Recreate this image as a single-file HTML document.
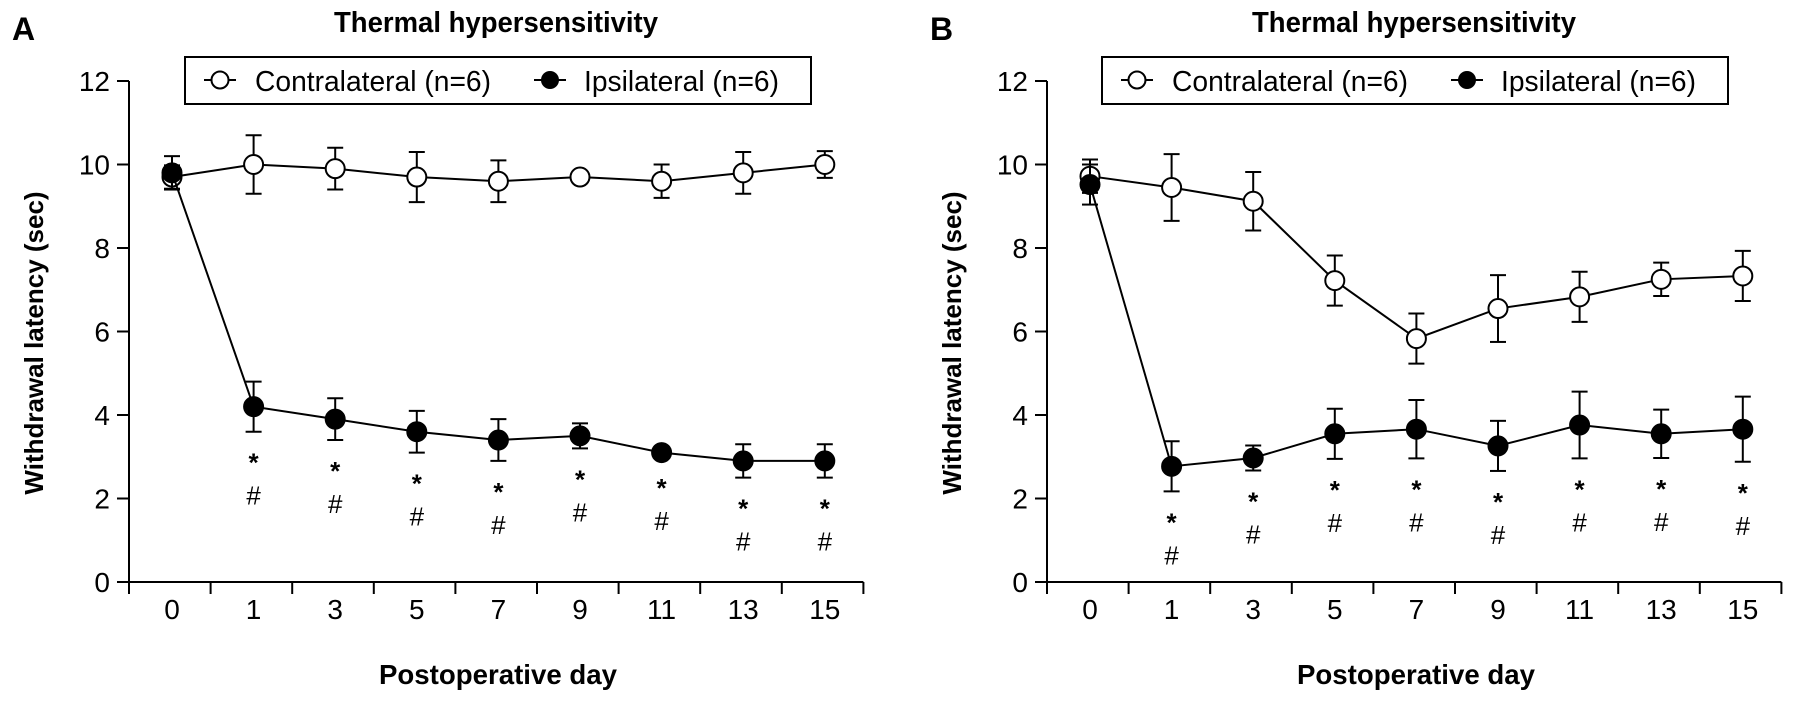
<!DOCTYPE html>
<html><head><meta charset="utf-8"><style>
body{margin:0;background:#fff}
svg text{font-family:"Liberation Sans",Arial,sans-serif;fill:#000}
</style></head><body>
<svg id="chart" width="1795" height="698" viewBox="0 0 1795 698"></svg>
<script>
const days = ["0","1","3","5","7","9","11","13","15"];
const yTicks = [0,2,4,6,8,10,12];
const contraA = [9.7,10.0,9.9,9.7,9.6,9.7,9.6,9.8,10.0];
const contraAErr = [0.28,0.7,0.5,0.6,0.5,0.08,0.4,0.5,0.32];
const ipsiA = [9.8,4.2,3.9,3.6,3.4,3.5,3.1,2.9,2.9];
const ipsiAErr = [0.4,0.6,0.5,0.5,0.5,0.3,0.1,0.4,0.4];
const contraB = [9.72,9.45,9.12,7.22,5.83,6.55,6.83,7.25,7.33];
const contraBErr = [0.4,0.8,0.7,0.6,0.6,0.8,0.6,0.4,0.6];
const ipsiB = [9.52,2.77,2.97,3.55,3.66,3.26,3.76,3.55,3.66];
const ipsiBErr = [0.48,0.6,0.3,0.6,0.7,0.6,0.8,0.58,0.78];
const annotA = [false,true,true,true,true,true,true,true,true];
const annotB = [false,true,true,true,true,true,true,true,true];

const NS="http://www.w3.org/2000/svg";
const svg=document.getElementById('chart');
function mk(tag,attrs,parent,text){const e=document.createElementNS(NS,tag);for(const k in attrs)e.setAttribute(k,attrs[k]);if(text!==undefined)e.textContent=text;(parent||svg).appendChild(e);return e;}

const Y0=582, Y12=81;
function yScale(v){return Y0-(v/12)*(Y0-Y12);}

function panel(letter,ax,contra,cErr,ipsi,iErr,annot,legendX){
  const g=mk('g',{});
  
  
  const step=81.6;
  const xScale=i=>ax+43+i*step;
  const xEnd=ax+9*step;
  let t=mk('text',{x:ax-117,y:40,'font-size':32,'font-weight':'bold'},g,letter);
  
  t=mk('text',{x:ax+205,y:32,'font-size':29,'font-weight':'bold',textLength:324,lengthAdjust:'spacingAndGlyphs'},g,'Thermal hypersensitivity');
  
  let a=mk('line',{x1:ax,y1:Y12,x2:ax,y2:Y0,stroke:'#000','stroke-width':2},g);
  
  a=mk('line',{x1:ax,y1:Y0,x2:xEnd,y2:Y0,stroke:'#000','stroke-width':2},g);
  
  yTicks.forEach(v=>{
    mk('line',{x1:ax-12,y1:yScale(v),x2:ax,y2:yScale(v),stroke:'#000','stroke-width':2},g);
    const l=mk('text',{x:ax-19,y:yScale(v)+10,'font-size':28,'text-anchor':'end'},g,String(v));
    
  });
  for(let k=0;k<=9;k++){mk('line',{x1:ax+k*step,y1:Y0,x2:ax+k*step,y2:Y0+12,stroke:'#000','stroke-width':2},g);}
  days.forEach((d,i)=>{
    const l=mk('text',{x:xScale(i),y:619,'font-size':28,'text-anchor':'middle'},g,d);
    
  });
  t=mk('text',{x:ax+369,y:684,'font-size':28,'font-weight':'bold','text-anchor':'middle',textLength:238,lengthAdjust:'spacingAndGlyphs'},g,'Postoperative day');
  
  t=mk('text',{x:0,y:0,'font-size':26,'font-weight':'bold','text-anchor':'middle',transform:`translate(${ax-86},${343}) rotate(-90)`},g,'Withdrawal latency (sec)');
  
  const lg=mk('g',{},g);
  
  mk('rect',{x:legendX,y:57,width:626,height:47,fill:'#fff',stroke:'#000','stroke-width':2},lg);
  mk('line',{x1:legendX+19,y1:80,x2:legendX+51,y2:80,stroke:'#000','stroke-width':2},lg);
  mk('circle',{cx:legendX+35,cy:80,r:8.5,fill:'#fff',stroke:'#000','stroke-width':2},lg);
  mk('text',{x:legendX+70,y:91,'font-size':29,textLength:236,lengthAdjust:'spacingAndGlyphs'},lg,'Contralateral (n=6)');
  mk('line',{x1:legendX+349,y1:80,x2:legendX+381,y2:80,stroke:'#000','stroke-width':2},lg);
  mk('circle',{cx:legendX+365,cy:80,r:9,fill:'#000'},lg);
  mk('text',{x:legendX+399,y:91,'font-size':29,textLength:195,lengthAdjust:'spacingAndGlyphs'},lg,'Ipsilateral (n=6)');
  function series(vals,errs,fill,name){
    const sg=mk('g',{},g);
    
    mk('polyline',{points:vals.map((v,i)=>xScale(i)+','+yScale(v)).join(' '),fill:'none',stroke:'#000','stroke-width':2},sg);
    vals.forEach((v,i)=>{
      const x=xScale(i),hi=yScale(v+errs[i]),lo=yScale(v-errs[i]);
      mk('line',{x1:x,y1:hi,x2:x,y2:lo,stroke:'#000','stroke-width':2},sg);
      mk('line',{x1:x-8,y1:hi,x2:x+8,y2:hi,stroke:'#000','stroke-width':2},sg);
      mk('line',{x1:x-8,y1:lo,x2:x+8,y2:lo,stroke:'#000','stroke-width':2},sg);
    });
    vals.forEach((v,i)=>{
      const c=mk('circle',{cx:xScale(i),cy:yScale(v),r:9.5,fill:fill,stroke:'#000','stroke-width':2},sg);
      
    });
  }
  series(contra,cErr,'#fff','contralateral-series');
  series(ipsi,iErr,'#000','ipsilateral-series');
  annot.forEach((on,i)=>{
    if(!on)return;
    const base=yScale(ipsi[i]-iErr[i]);
    const s=mk('text',{x:xScale(i),y:base+40,'font-size':26,'font-weight':'bold','text-anchor':'middle'},g,'*');
    
    const h=mk('text',{x:xScale(i),y:base+73,'font-size':26,'text-anchor':'middle'},g,'#');
    
  });
}
panel('A',129,contraA,contraAErr,ipsiA,ipsiAErr,annotA,185);
panel('B',1047,contraB,contraBErr,ipsiB,ipsiBErr,annotB,1102);
</script>
</body></html>
